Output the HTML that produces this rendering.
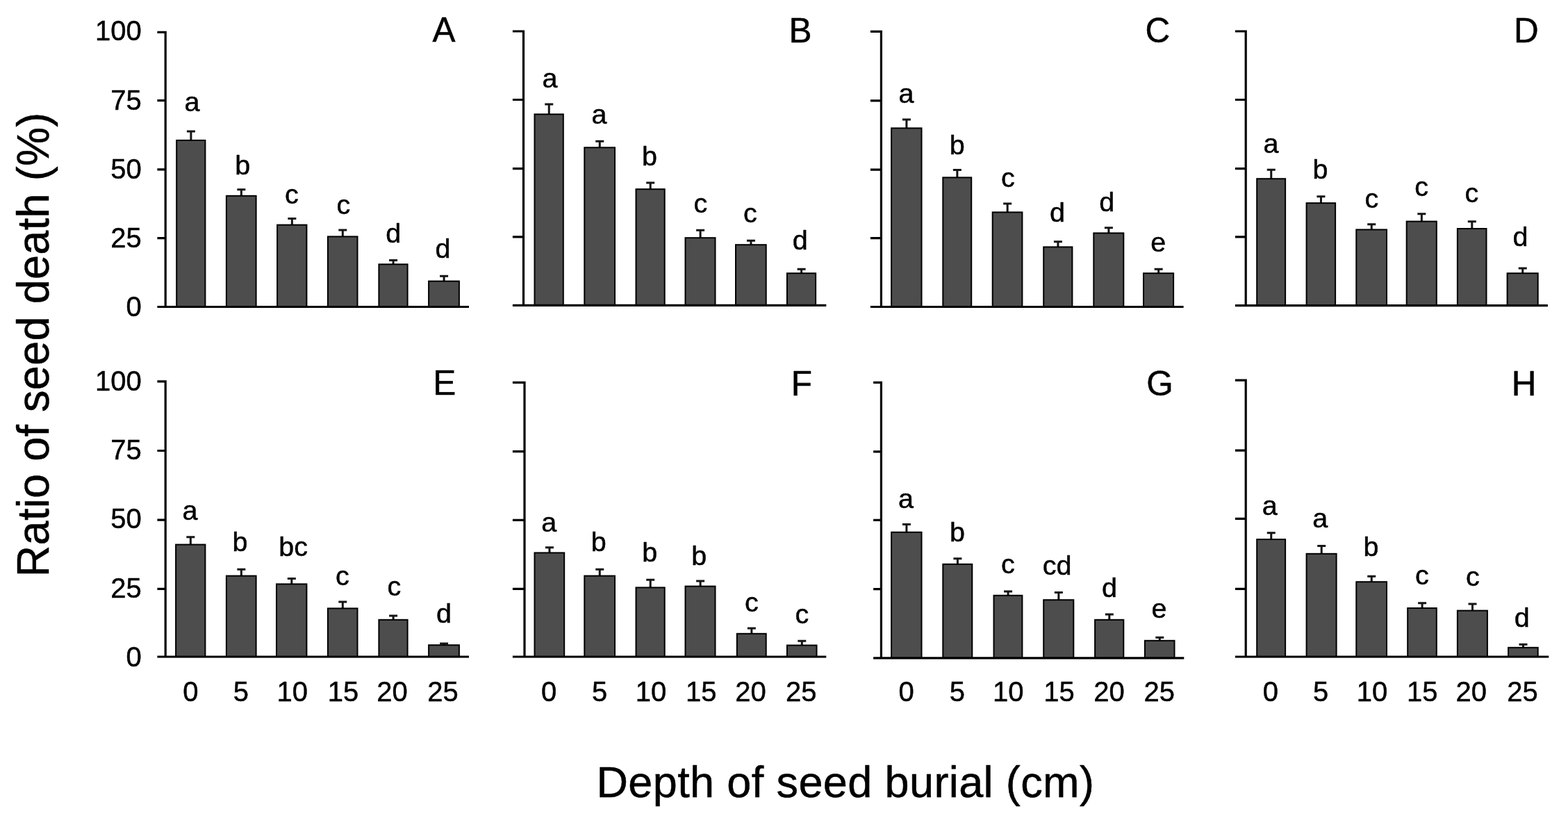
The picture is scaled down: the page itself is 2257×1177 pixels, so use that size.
<!DOCTYPE html>
<html lang="en"><head><meta charset="utf-8"><title>Ratio of seed death vs depth of seed burial</title>
<style>
html,body{margin:0;padding:0;background:#fff}
body{width:2257px;height:1177px;overflow:hidden}
svg{display:block}
text{font-family:"Liberation Sans",sans-serif;fill:#000;stroke:#000;stroke-width:0.5px;stroke-linejoin:round}
.b{fill:#4d4d4d;stroke:#000;stroke-width:2}
.e{fill:none;stroke:#151515;stroke-width:3}
.a{fill:none;stroke:#000;stroke-width:3.2}
</style></head><body>
<svg width="2257" height="1177" viewBox="0 0 2257 1177">
<rect width="2257" height="1177" fill="#fff"/>
<path d="M274.90 201.90V188.90M268.90 188.90H280.90" class="e"/>
<rect x="254.20" y="201.90" width="41.20" height="239.60" class="b"/>
<text x="265.40" y="159.70" font-size="39.5">a</text>
<path d="M347.35 281.80V272.80M341.35 272.80H353.35" class="e"/>
<rect x="325.90" y="281.80" width="42.70" height="159.70" class="b"/>
<text x="338.20" y="250.70" font-size="39.5">b</text>
<path d="M420.35 323.60V314.50M414.35 314.50H426.35" class="e"/>
<rect x="399.10" y="323.60" width="42.30" height="117.90" class="b"/>
<text x="410.02" y="292.80" font-size="39.5">c</text>
<path d="M493.30 340.40V330.90M487.30 330.90H499.30" class="e"/>
<rect x="471.90" y="340.40" width="42.60" height="101.10" class="b"/>
<text x="484.52" y="307.50" font-size="39.5">c</text>
<path d="M566.10 380.30V374.50M560.10 374.50H572.10" class="e"/>
<rect x="545.40" y="380.30" width="41.20" height="61.20" class="b"/>
<text x="555.20" y="348.80" font-size="39.5">d</text>
<path d="M639.10 404.60V397.30M633.10 397.30H645.10" class="e"/>
<rect x="617.10" y="404.60" width="43.80" height="36.90" class="b"/>
<text x="626.60" y="371.30" font-size="39.5">d</text>
<path d="M238.20 44.70V441.50M226.40 46.30H238.20M226.40 144.60H238.20M226.40 243.80H238.20M226.40 342.60H238.20M226.40 441.50H675.00" class="a"/>
<text transform="translate(622.50 60.20) scale(1 1.012)" font-size="49.5">A</text>
<path d="M790.25 164.40V150.00M784.25 150.00H796.25" class="e"/>
<rect x="769.50" y="164.40" width="41.30" height="275.00" class="b"/>
<text x="780.40" y="126.10" font-size="39.5">a</text>
<path d="M863.25 212.30V203.20M857.25 203.20H869.25" class="e"/>
<rect x="841.30" y="212.30" width="43.70" height="227.10" class="b"/>
<text x="851.40" y="177.50" font-size="39.5">a</text>
<path d="M936.20 272.20V263.10M930.20 263.10H942.20" class="e"/>
<rect x="915.50" y="272.20" width="41.20" height="167.20" class="b"/>
<text x="923.90" y="237.50" font-size="39.5">b</text>
<path d="M1008.10 342.20V331.30M1002.10 331.30H1014.10" class="e"/>
<rect x="986.50" y="342.20" width="43.00" height="97.20" class="b"/>
<text x="998.52" y="306.00" font-size="39.5">c</text>
<path d="M1080.95 352.20V346.30M1074.95 346.30H1086.95" class="e"/>
<rect x="1059.00" y="352.20" width="43.70" height="87.20" class="b"/>
<text x="1069.92" y="320.30" font-size="39.5">c</text>
<path d="M1153.60 393.20V387.30M1147.60 387.30H1159.60" class="e"/>
<rect x="1132.90" y="393.20" width="41.20" height="46.20" class="b"/>
<text x="1140.80" y="358.80" font-size="39.5">d</text>
<path d="M753.50 43.40V439.40M737.90 45.00H753.50M737.90 143.50H753.50M737.90 242.70H753.50M737.90 340.90H753.50M737.90 439.40H1189.30" class="a"/>
<text transform="translate(1135.50 61.00) scale(1 1.012)" font-size="49.5">B</text>
<path d="M1304.90 184.40V172.10M1298.90 172.10H1310.90" class="e"/>
<rect x="1283.10" y="184.40" width="43.40" height="257.10" class="b"/>
<text x="1293.60" y="147.50" font-size="39.5">a</text>
<path d="M1377.85 255.40V244.60M1371.85 244.60H1383.85" class="e"/>
<rect x="1357.30" y="255.40" width="40.90" height="186.10" class="b"/>
<text x="1366.80" y="222.10" font-size="39.5">b</text>
<path d="M1450.15 305.40V293.10M1444.15 293.10H1456.15" class="e"/>
<rect x="1428.70" y="305.40" width="42.70" height="136.10" class="b"/>
<text x="1441.03" y="268.90" font-size="39.5">c</text>
<path d="M1522.90 355.40V347.70M1516.90 347.70H1528.90" class="e"/>
<rect x="1502.20" y="355.40" width="41.20" height="86.10" class="b"/>
<text x="1510.90" y="318.90" font-size="39.5">d</text>
<path d="M1595.90 335.40V327.70M1589.90 327.70H1601.90" class="e"/>
<rect x="1574.30" y="335.40" width="43.00" height="106.10" class="b"/>
<text x="1582.30" y="303.50" font-size="39.5">d</text>
<path d="M1667.65 393.20V387.30M1661.65 387.30H1673.65" class="e"/>
<rect x="1646.00" y="393.20" width="43.10" height="48.30" class="b"/>
<text x="1656.20" y="362.40" font-size="39.5">e</text>
<path d="M1268.40 43.70V441.50M1252.90 45.30H1268.40M1252.90 144.90H1268.40M1252.90 244.10H1268.40M1252.90 342.60H1268.40M1252.90 441.50H1703.60" class="a"/>
<text transform="translate(1648.38 60.90) scale(1 1.012)" font-size="49.5">C</text>
<path d="M1829.75 257.20V244.20M1823.75 244.20H1835.75" class="e"/>
<rect x="1809.20" y="257.20" width="40.90" height="182.50" class="b"/>
<text x="1818.60" y="220.40" font-size="39.5">a</text>
<path d="M1901.45 292.20V282.80M1895.45 282.80H1907.45" class="e"/>
<rect x="1880.60" y="292.20" width="41.50" height="147.50" class="b"/>
<text x="1889.60" y="256.80" font-size="39.5">b</text>
<path d="M1974.25 330.40V322.70M1968.25 322.70H1980.25" class="e"/>
<rect x="1952.30" y="330.40" width="43.70" height="109.30" class="b"/>
<text x="1964.62" y="298.50" font-size="39.5">c</text>
<path d="M2046.35 318.60V307.70M2040.35 307.70H2052.35" class="e"/>
<rect x="2024.70" y="318.60" width="43.10" height="121.10" class="b"/>
<text x="2036.33" y="282.10" font-size="39.5">c</text>
<path d="M2118.80 329.00V318.80M2112.80 318.80H2124.80" class="e"/>
<rect x="2097.90" y="329.00" width="41.60" height="110.70" class="b"/>
<text x="2108.43" y="291.40" font-size="39.5">c</text>
<path d="M2191.75 393.20V385.90M2185.75 385.90H2197.75" class="e"/>
<rect x="2169.60" y="393.20" width="44.10" height="46.50" class="b"/>
<text x="2177.60" y="353.50" font-size="39.5">d</text>
<path d="M1793.20 43.40V439.70M1777.90 45.00H1793.20M1777.90 143.50H1793.20M1777.90 242.70H1793.20M1777.90 340.90H1793.20M1777.90 439.70H2227.90" class="a"/>
<text transform="translate(2179.12 61.00) scale(1 1.012)" font-size="49.5">D</text>
<path d="M274.35 783.60V772.80M268.35 772.80H280.35" class="e"/>
<rect x="253.10" y="783.60" width="42.30" height="161.40" class="b"/>
<text x="262.50" y="748.20" font-size="39.5">a</text>
<path d="M347.35 828.60V819.20M341.35 819.20H353.35" class="e"/>
<rect x="325.90" y="828.60" width="42.70" height="116.40" class="b"/>
<text x="334.60" y="793.20" font-size="39.5">b</text>
<path d="M419.80 840.40V832.40M413.80 832.40H425.80" class="e"/>
<rect x="398.00" y="840.40" width="43.40" height="104.60" class="b"/>
<text x="401.23" y="800.30" font-size="39.5">bc</text>
<path d="M493.30 875.40V865.90M487.30 865.90H499.30" class="e"/>
<rect x="471.90" y="875.40" width="42.60" height="69.60" class="b"/>
<text x="483.12" y="842.40" font-size="39.5">c</text>
<path d="M566.10 891.80V885.90M560.10 885.90H572.10" class="e"/>
<rect x="545.40" y="891.80" width="41.20" height="53.20" class="b"/>
<text x="557.42" y="857.40" font-size="39.5">c</text>
<path d="M639.10 928.20V925.90M633.10 925.90H645.10" class="e"/>
<rect x="617.10" y="928.20" width="43.80" height="16.80" class="b"/>
<text x="628.00" y="896.00" font-size="39.5">d</text>
<path d="M238.20 547.30V945.00M226.40 548.90H238.20M226.40 648.50H238.20M226.40 748.10H238.20M226.40 847.30H238.20M226.40 945.00H675.00" class="a"/>
<text transform="translate(623.30 568.20) scale(1 1.012)" font-size="49.5">E</text>
<path d="M790.95 795.40V787.80M784.95 787.80H796.95" class="e"/>
<rect x="769.50" y="795.40" width="42.70" height="149.60" class="b"/>
<text x="779.30" y="764.60" font-size="39.5">a</text>
<path d="M863.25 828.60V819.20M857.25 819.20H869.25" class="e"/>
<rect x="841.30" y="828.60" width="43.70" height="116.40" class="b"/>
<text x="850.70" y="793.20" font-size="39.5">b</text>
<path d="M936.20 845.40V834.20M930.20 834.20H942.20" class="e"/>
<rect x="915.50" y="845.40" width="41.20" height="99.60" class="b"/>
<text x="924.20" y="807.50" font-size="39.5">b</text>
<path d="M1008.10 843.60V835.90M1002.10 835.90H1014.10" class="e"/>
<rect x="986.50" y="843.60" width="43.00" height="101.40" class="b"/>
<text x="995.20" y="812.50" font-size="39.5">b</text>
<path d="M1081.85 911.80V904.10M1075.85 904.10H1087.85" class="e"/>
<rect x="1060.80" y="911.80" width="41.90" height="33.20" class="b"/>
<text x="1072.03" y="880.30" font-size="39.5">c</text>
<path d="M1154.30 928.50V922.30M1148.30 922.30H1160.30" class="e"/>
<rect x="1132.90" y="928.50" width="42.60" height="16.50" class="b"/>
<text x="1144.42" y="897.00" font-size="39.5">c</text>
<path d="M755.00 548.70V945.00M737.90 550.30H755.00M737.90 649.60H755.00M737.90 748.40H755.00M737.90 847.30H755.00M737.90 945.00H1189.30" class="a"/>
<text transform="translate(1138.68 568.70) scale(1 1.012)" font-size="49.5">F</text>
<path d="M1304.90 765.80V754.60M1298.90 754.60H1310.90" class="e"/>
<rect x="1283.10" y="765.80" width="43.40" height="181.00" class="b"/>
<text x="1292.90" y="731.10" font-size="39.5">a</text>
<path d="M1378.40 811.80V803.80M1372.40 803.80H1384.40" class="e"/>
<rect x="1357.30" y="811.80" width="42.00" height="135.00" class="b"/>
<text x="1367.10" y="779.30" font-size="39.5">b</text>
<path d="M1451.05 856.80V850.90M1445.05 850.90H1457.05" class="e"/>
<rect x="1430.50" y="856.80" width="40.90" height="90.00" class="b"/>
<text x="1441.03" y="825.30" font-size="39.5">c</text>
<path d="M1523.85 863.20V852.40M1517.85 852.40H1529.85" class="e"/>
<rect x="1502.20" y="863.20" width="43.10" height="83.60" class="b"/>
<text x="1500.72" y="827.10" font-size="39.5">cd</text>
<path d="M1596.80 891.80V884.10M1590.80 884.10H1602.80" class="e"/>
<rect x="1576.10" y="891.80" width="41.20" height="55.00" class="b"/>
<text x="1585.90" y="858.50" font-size="39.5">d</text>
<path d="M1669.30 921.80V917.30M1663.30 917.30H1675.30" class="e"/>
<rect x="1647.90" y="921.80" width="42.60" height="25.00" class="b"/>
<text x="1657.60" y="888.80" font-size="39.5">e</text>
<path d="M1268.40 548.70V946.80M1257.10 550.30H1268.40M1257.10 649.90H1268.40M1257.10 748.40H1268.40M1257.10 847.60H1268.40M1257.10 946.80H1704.30" class="a"/>
<text transform="translate(1650.25 568.70) scale(1 1.012)" font-size="49.5">G</text>
<path d="M1829.75 776.10V766.70M1823.75 766.70H1835.75" class="e"/>
<rect x="1809.20" y="776.10" width="40.90" height="168.90" class="b"/>
<text x="1816.80" y="741.10" font-size="39.5">a</text>
<path d="M1902.20 796.80V785.60M1896.20 785.60H1908.20" class="e"/>
<rect x="1880.60" y="796.80" width="43.00" height="148.20" class="b"/>
<text x="1889.30" y="759.30" font-size="39.5">a</text>
<path d="M1974.25 837.20V829.20M1968.25 829.20H1980.25" class="e"/>
<rect x="1952.30" y="837.20" width="43.70" height="107.80" class="b"/>
<text x="1962.40" y="800.30" font-size="39.5">b</text>
<path d="M2047.10 875.00V867.70M2041.10 867.70H2053.10" class="e"/>
<rect x="2026.20" y="875.00" width="41.60" height="70.00" class="b"/>
<text x="2037.03" y="840.60" font-size="39.5">c</text>
<path d="M2119.50 878.60V869.10M2113.50 869.10H2125.50" class="e"/>
<rect x="2097.90" y="878.60" width="43.00" height="66.40" class="b"/>
<text x="2109.93" y="843.10" font-size="39.5">c</text>
<path d="M2192.50 931.80V927.30M2186.50 927.30H2198.50" class="e"/>
<rect x="2171.10" y="931.80" width="42.60" height="13.20" class="b"/>
<text x="2179.80" y="901.70" font-size="39.5">d</text>
<path d="M1793.20 545.50V945.00M1777.90 547.10H1793.20M1777.90 648.10H1793.20M1777.90 746.30H1793.20M1777.90 847.30H1793.20M1777.90 945.00H2229.30" class="a"/>
<text transform="translate(2175.78 568.70) scale(1 1.012)" font-size="49.5">H</text>
<text x="137.05" y="58.00" font-size="40">100</text>
<text x="159.30" y="158.00" font-size="40">75</text>
<text x="159.30" y="257.00" font-size="40">50</text>
<text x="159.30" y="356.00" font-size="40">25</text>
<text x="181.55" y="455.20" font-size="40">0</text>
<text x="137.05" y="561.50" font-size="40">100</text>
<text x="159.30" y="661.00" font-size="40">75</text>
<text x="159.30" y="760.00" font-size="40">50</text>
<text x="159.30" y="859.80" font-size="40">25</text>
<text x="181.55" y="958.50" font-size="40">0</text>
<text x="263.23" y="1008.80" font-size="40">0</text>
<text x="335.77" y="1008.80" font-size="40">5</text>
<text x="398.50" y="1008.80" font-size="40">10</text>
<text x="471.75" y="1008.80" font-size="40">15</text>
<text x="542.25" y="1008.80" font-size="40">20</text>
<text x="615.25" y="1008.80" font-size="40">25</text>
<text x="778.88" y="1008.80" font-size="40">0</text>
<text x="851.88" y="1008.80" font-size="40">5</text>
<text x="914.65" y="1008.80" font-size="40">10</text>
<text x="986.95" y="1008.80" font-size="40">15</text>
<text x="1058.35" y="1008.80" font-size="40">20</text>
<text x="1131.10" y="1008.80" font-size="40">25</text>
<text x="1293.47" y="1008.80" font-size="40">0</text>
<text x="1366.68" y="1008.80" font-size="40">5</text>
<text x="1429.00" y="1008.80" font-size="40">10</text>
<text x="1502.20" y="1008.80" font-size="40">15</text>
<text x="1574.25" y="1008.80" font-size="40">20</text>
<text x="1646.60" y="1008.80" font-size="40">25</text>
<text x="1817.68" y="1008.80" font-size="40">0</text>
<text x="1889.97" y="1008.80" font-size="40">5</text>
<text x="1952.80" y="1008.80" font-size="40">10</text>
<text x="2025.10" y="1008.80" font-size="40">15</text>
<text x="2095.55" y="1008.80" font-size="40">20</text>
<text x="2169.25" y="1008.80" font-size="40">25</text>
<text x="858.47" y="1147.2" font-size="63" letter-spacing="0.38">Depth of seed burial (cm)</text>
<text transform="translate(70.1 830.24) rotate(-90) scale(1 1.035)" font-size="63" letter-spacing="0.3">Ratio of seed death (%)</text>
</svg>
</body></html>
